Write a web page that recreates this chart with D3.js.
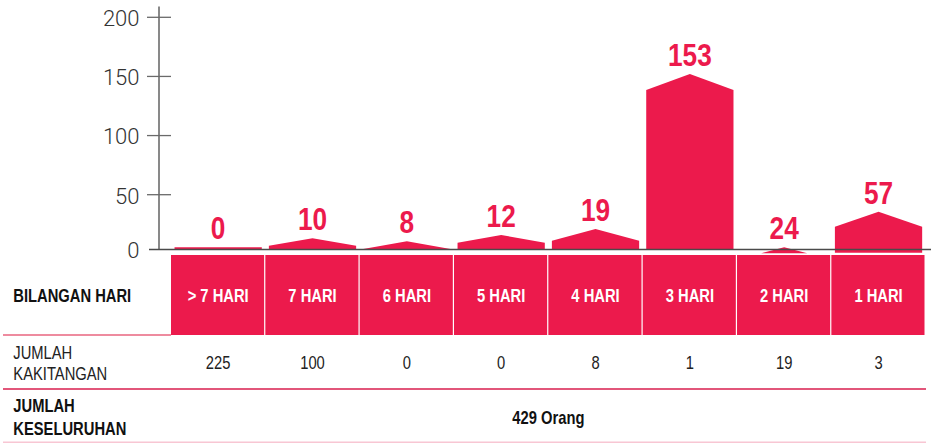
<!DOCTYPE html>
<html>
<head>
<meta charset="utf-8">
<script src="https://cdn.jsdelivr.net/npm/d3@7"></script>
<style>
  html, body { margin: 0; padding: 0; background: #fff; }
  svg { display: block; }
  .cond { font-family: "Liberation Sans", Arial, sans-serif; }
  .light { font-family: "Roboto", "Liberation Sans", sans-serif; font-weight: 300; }
</style>
</head>
<body>
<svg id="chart" width="931" height="443"></svg>
<script>
// ---- data ----
const categories = ["> 7 HARI", "7 HARI", "6 HARI", "5 HARI", "4 HARI", "3 HARI", "2 HARI", "1 HARI"];
const labelValues = [0, 10, 8, 12, 19, 153, 24, 57];
// bar shape as drawn in the picture (peak of roof, shoulder of roof, bottom of bar)
const peakValues = [1.6, 10, 7.1, 12.9, 18.4, 152, 1.6, 34.3];
const shoulderValues = [1.6, 3, 0, 5.8, 7.6, 138.5, -9, 20.5];
const baseValues = [0, 0, 0, 0, 0, 0, -4, -3.5];
const staffCounts = [225, 100, 0, 0, 8, 1, 19, 3];
const yTicks = [0, 50, 100, 150, 200];
const rowLabelDays = "BILANGAN HARI";
const rowLabelStaff = ["JUMLAH", "KAKITANGAN"];
const rowLabelTotal = ["JUMLAH", "KESELURUHAN"];
const totalText = "429 Orang";

const RED = "#EC1A4C";
const NARROW = 0.82;
const svg = d3.select("#chart");

// condensed text helper: real text, horizontally compressed
function condText(parent, x, y, txt, opts) {
  const t = parent.append("text")
    .attr("class", "cond")
    .attr("transform", `translate(${x},${y}) scale(${NARROW},1)`)
    .attr("text-anchor", opts.anchor || "start")
    .attr("font-size", opts.size || 18)
    .attr("font-weight", opts.weight || "normal")
    .attr("fill", opts.fill || "#222")
    .text(txt);
  return t;
}

// ---- scales ----
const y = d3.scaleLinear().domain([0, 50, 200]).range([249, 194.7, 17.3]);
const col = d3.scaleBand().domain(categories).range([171, 925.7]).padding(0);
const bx = d3.scaleBand().domain(categories).range([171, 925.7]).paddingInner(0.075).paddingOuter(0.0375);

// ---- y axis ----
const axisX = 159;
svg.append("line").attr("x1", axisX).attr("x2", axisX).attr("y1", 6.5).attr("y2", y(0))
  .attr("stroke", "#4a4a4a").attr("stroke-width", 1.3);
svg.selectAll(".tick").data(yTicks.filter(d => d > 0)).join("line")
  .attr("x1", 147).attr("x2", 171).attr("y1", d => y(d)).attr("y2", d => y(d))
  .attr("stroke", "#6a6a6a").attr("stroke-width", 1.3);
svg.selectAll(".ticklabel").data(yTicks).join("text")
  .attr("class", "light")
  .attr("x", 139.5).attr("y", d => y(d) + 1.2)
  .attr("dy", "0.35em")
  .attr("text-anchor", "end")
  .attr("font-size", 22).attr("fill", "#333")
  .text(d => d);

// ---- bars ----
const data = categories.map((c, i) => ({
  c, label: labelValues[i], peak: peakValues[i], shoulder: shoulderValues[i], base: baseValues[i]
}));

function barPath(d) {
  const x0 = bx(d.c), w = bx.bandwidth(), x1 = x0 + w, xc = x0 + w / 2;
  const yb = y(d.base), ys = y(d.shoulder), yp = y(d.peak);
  if (ys >= yb) {
    const frac = (yb - yp) / (ys - yp);
    const h = (w / 2) * frac;
    return `M${xc - h},${yb}L${xc},${yp}L${xc + h},${yb}Z`;
  }
  return `M${x0},${yb}L${x0},${ys}L${xc},${yp}L${x1},${ys}L${x1},${yb}Z`;
}

svg.append("g").selectAll("path").data(data).join("path")
  .attr("d", barPath).attr("fill", RED);

// zero baseline
svg.append("line").attr("x1", 149).attr("x2", 931).attr("y1", y(0) + 0.5).attr("y2", y(0) + 0.5)
  .attr("stroke", "#4a4a4a").attr("stroke-width", 1.3);

const gLab = svg.append("g");
data.forEach(d => {
  condText(gLab, bx(d.c) + bx.bandwidth() / 2, y(d.peak) - 8, d.label,
    { anchor: "middle", size: 32, weight: "bold", fill: RED });
});

// ---- table ----
const headTop = 255, headBot = 335;
svg.append("g").selectAll("rect").data(categories).join("rect")
  .attr("x", d => col(d)).attr("y", headTop)
  .attr("width", col.bandwidth() - 1.2).attr("height", headBot - headTop)
  .attr("fill", RED);
const gHead = svg.append("g");
categories.forEach(c => {
  condText(gHead, col(c) + col.bandwidth() / 2, 301.5, c,
    { anchor: "middle", size: 18, weight: "bold", fill: "#fff" });
});
condText(svg, 13.3, 301.5, rowLabelDays, { size: 18, weight: "bold", fill: "#111" });

// lines
svg.append("line").attr("x1", 3).attr("x2", 171).attr("y1", 335).attr("y2", 335)
  .attr("stroke", "#E8647F").attr("stroke-width", 1.5);
svg.append("line").attr("x1", 3).attr("x2", 926).attr("y1", 389).attr("y2", 389)
  .attr("stroke", "#D81E4E").attr("stroke-width", 1.5);
svg.append("line").attr("x1", 3).attr("x2", 926).attr("y1", 442.3).attr("y2", 442.3)
  .attr("stroke", "#F8C6D3").attr("stroke-width", 1.5);

// staff row
rowLabelStaff.forEach((t, i) => condText(svg, 13.3, 359.3 + i * 20.7, t, { size: 18, fill: "#222" }));
staffCounts.forEach((v, i) => {
  condText(svg, col(categories[i]) + col.bandwidth() / 2, 369, v,
    { anchor: "middle", size: 18, fill: "#222" });
});

// total row
rowLabelTotal.forEach((t, i) => condText(svg, 13.3, 411.7 + i * 23.3, t, { size: 18, weight: "bold", fill: "#111" }));
condText(svg, (col.range()[0] + col.range()[1]) / 2, 423.5, totalText,
  { anchor: "middle", size: 18, weight: "bold", fill: "#111" });
</script>
</body>
</html>
